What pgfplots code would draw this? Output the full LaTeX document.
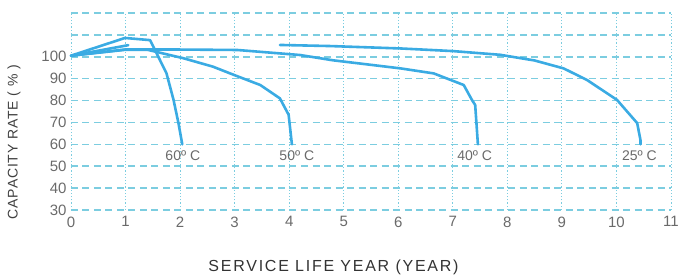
\documentclass[border=0pt]{standalone}
\usepackage{fontspec}
\setmainfont{Liberation Sans}
\newfontfamily\spacedx[LetterSpace=11]{Liberation Sans}
\newfontfamily\spacedy[LetterSpace=6]{Liberation Sans}
\usepackage{pgfplots}
\pgfplotsset{compat=1.18}
\definecolor{gridc}{HTML}{7CCDE0}
\definecolor{curve}{HTML}{3AABE3}
\definecolor{tickc}{HTML}{6A6A6A}
\begin{document}
\begin{tikzpicture}
\begin{axis}[
  scale only axis,
  width=600pt, height=197pt,
  xmin=0, xmax=11, ymin=30, ymax=120,
  xtick={0,1,...,11},
  ytick={30,40,...,120},
  yticklabels={30,40,50,60,70,80,90,100,,},
  axis line style={draw=none},
  major tick length=0pt,
  xmajorgrids, ymajorgrids,
  major x grid style={gridc, line width=0.9pt, dash pattern=on 1.2pt off 2pt},
  major y grid style={gridc, line width=1.6pt, dash pattern=on 7pt off 4.5pt},
  /pgf/number format/assume math mode=true,
  tick label style={font=\fontsize{15}{18}\selectfont, text=tickc},
  xticklabel style={yshift=-3pt},
  yticklabel style={xshift=-1pt},
  clip=false,
]
\pgfplotsset{cstyle/.style={curve, no marks, line width=2.6pt, line join=round, line cap=round}}
% 60 C
\addplot[cstyle] coordinates {(0,100.5) (0.99,108.6) (1.45,107.6) (1.75,92.5) (1.88,80.3) (1.97,69.7) (2.04,60)};
% short branch
\addplot[cstyle] coordinates {(0,100.5) (1.05,105.3)};
% 50 C
\addplot[cstyle] coordinates {(0,100.5) (1.0,103.2) (1.4,103.2) (2.05,99.4) (2.6,95.5) (3.04,91.2) (3.47,87.1) (3.83,81) (3.99,73.5) (4.05,60)};
% 40 C
\addplot[cstyle] coordinates {(0,100.5) (1.02,103.4) (2.0,103.3) (3.05,103.1) (4.2,100.8) (4.8,98.4) (6.04,94.7) (6.65,92.4) (7.2,87.1) (7.35,80.3) (7.41,78) (7.46,60)};
% 25 C
\addplot[cstyle] coordinates {(3.83,105.4) (4.75,104.9) (6.04,103.8) (7.0,102.6) (7.87,100.9) (8.5,98.3) (9.03,94.7) (9.46,89.4) (10.01,80.3) (10.38,69.7) (10.44,62) (10.44,60)};
\node[text=tickc, font=\fontsize{14}{17}\selectfont] at (axis cs:2.05,55) {60º C};
\node[text=tickc, font=\fontsize{14}{17}\selectfont] at (axis cs:4.14,55) {50º C};
\node[text=tickc, font=\fontsize{14}{17}\selectfont] at (axis cs:7.4,55) {40º C};
\node[text=tickc, font=\fontsize{14}{17}\selectfont] at (axis cs:10.42,55) {25º C};
\node[anchor=center, font=\spacedx\fontsize{16}{19}\selectfont, text=black!80] at ([yshift=-57pt]rel axis cs:0.4375,0) {SERVICE LIFE YEAR (YEAR)};
\node[anchor=center, rotate=90, font=\spacedy\fontsize{14}{17}\selectfont, text=black!75] at ([xshift=-57pt]rel axis cs:0,0.345) {CAPACITY RATE ( \% )};
\coordinate (sw) at (rel axis cs:0,0);
\coordinate (ne) at (rel axis cs:1,1);
\end{axis}
\pgfresetboundingbox
\useasboundingbox ([xshift=-71pt,yshift=-67pt]sw) rectangle ([xshift=7pt,yshift=13pt]ne);
\end{tikzpicture}
\end{document}
